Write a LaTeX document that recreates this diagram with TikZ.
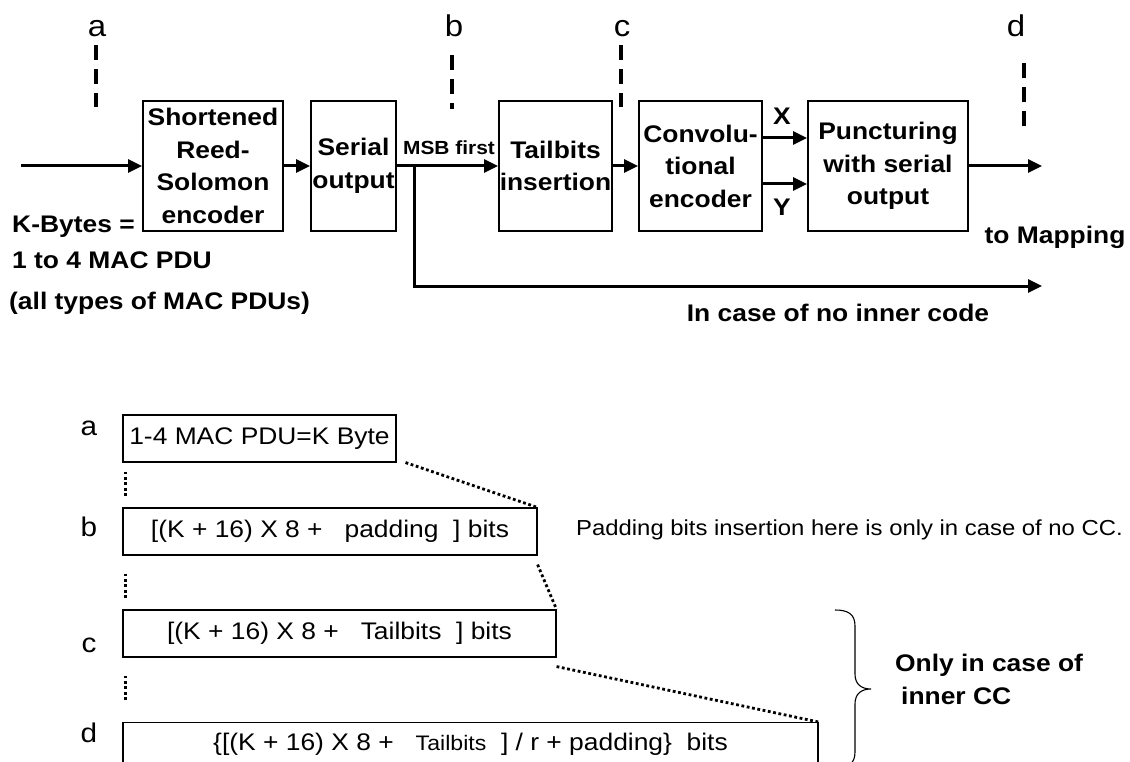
\documentclass[tikz,border=0pt]{standalone}
\usepackage{fontspec}
\setmainfont{Liberation Sans}[FakeStretch=1.1]
\usetikzlibrary{arrows.meta}
\newcommand\fsz[2]{\fontsize{#1}{#2}\selectfont}
\begin{document}
\begin{tikzpicture}[x=1pt,y=-1pt,
  blk/.style={draw,line width=2pt,font=\bfseries\fsz{24}{32.5},align=center,inner sep=0pt,minimum height=130pt},
  flow/.style={line width=3pt,-{Triangle[length=14pt,width=13pt]}},
  cut/.style={line width=4pt,dash pattern=on 15pt off 9pt},
  tag/.style={font=\fsz{30}{32},anchor=base,inner sep=0pt},
  lbl/.style={font=\bfseries\fsz{24}{28},inner sep=0pt},
  seg/.style={draw,line width=1.1pt,font=\fsz{24}{28},minimum height=47pt,inner sep=0pt},
  dots/.style={line width=2.8pt,dash pattern=on 2.8pt off 2.6pt},
]
\useasboundingbox[fill=white] (0,0) rectangle (1130,762);
\clip (0,0) rectangle (1130,762);

% ---------- encoder chain ----------
\node[blk,minimum width=140pt] (rs)   at (213,166)   {Shortened\\Reed-\\Solomon\\encoder};
\node[blk,minimum width=85pt]  (ser)  at (353.5,166) {Serial\\output};
\node[blk,minimum width=113pt] (tail) at (555.5,166) {Tailbits\\insertion};
\node[blk,minimum width=123pt] (conv) at (700.5,166) {Convolu-\\tional\\encoder};
\node[blk,minimum width=160pt] (punc) at (888,166)   {Puncturing\\with serial\\output};

\coordinate (in)  at (21,166);
\coordinate (br)  at (414,166);
\coordinate (out) at (1042,166);
\coordinate (nc)  at (1042,286);

\draw[flow] (in) -- (rs.west);
\draw[flow] (rs.east) -- (ser.west);
\draw[flow] (ser.east) -- (tail.west);
\draw[flow] (tail.east) -- (conv.west);
\draw[flow] ([yshift=28pt]conv.east) -- ([yshift=28pt]punc.west);
\draw[flow] ([yshift=-18pt]conv.east) -- ([yshift=-18pt]punc.west);
\draw[flow] (punc.east) -- (out);
\draw[flow] (br) |- (nc);

\node[lbl,font=\bfseries\fsz{19}{20}] (msb) at (449,148) {MSB first};
\node[lbl] (xl)  at (782,116) {X};
\node[lbl] (yl)  at (782,207) {Y};
\node[lbl] (map) at (1055,237) {to Mapping};
\node[lbl] (nic) at (838,313) {In case of no inner code};
\node[lbl,anchor=west] (kb)    at (12,227) {K-Bytes =};
\node[lbl,anchor=west] (kmac)  at (12,260) {1 to 4 MAC PDU};
\node[lbl,anchor=west] (ktype) at (9,303)  {(all types of MAC PDUs)};

% ---------- observation points ----------
\node[tag] (ta) at (97,37)   {a};
\node[tag] (tb) at (454,37)  {b};
\node[tag] (tc) at (622,37)  {c};
\node[tag] (td) at (1016,37) {d};
\coordinate (a1) at (96,45);   \coordinate (a2) at (96,107);
\coordinate (b1) at (452,55);  \coordinate (b2) at (452,109);
\coordinate (c1) at (621,45);  \coordinate (c2) at (621,107);
\coordinate (d1) at (1024,63); \coordinate (d2) at (1024,127);
\draw[cut] (a1) -- (a2);
\draw[cut] (b1) -- (b2);
\draw[cut] (c1) -- (c2);
\draw[cut] (d1) -- (d2);

% ---------- block sizes ----------
\node[tag,font=\fsz{27}{28}] (la) at (89,435) {a};
\node[tag,font=\fsz{27}{28}] (lb) at (89,536) {b};
\node[tag,font=\fsz{27}{28}] (lc) at (89,652) {c};
\node[tag,font=\fsz{27}{28}] (ld) at (89,742) {d};

\node[seg,minimum width=273pt] (sa) at (259.5,438.5) {1-4 MAC PDU=K Byte};
\node[seg,minimum width=414pt] (sb) at (330,531.5) {[(K + 16) X 8 +\ \ \ padding\ \ ] bits};
\node[seg,minimum width=433pt] (sc) at (339.5,633.5) {[(K + 16) X 8 +\ \ \ Tailbits\ \ ] bits};
\node[seg,anchor=north,minimum width=695pt,minimum height=0pt,text height=28pt,text depth=60pt]
  (sd) at (470.5,722) {\{[(K + 16) X 8 +\ \ \ {\fsz{21}{22}Tailbits}\ \ ] / r + padding\}\ \ bits};

\node[anchor=west,font=\fsz{21.7}{24},inner sep=0pt] (note) at (576,530)
  {Padding bits insertion here is only in case of no CC.};

\draw[dots] ([xshift=9pt]sa.south east) -- (sb.north east);
\draw[dots] ([yshift=-9pt]sb.south east) -- (sc.north east);
\draw[dots] ([yshift=-9pt]sc.south east) -- (sd.north east);

\draw[dots] ([xshift=3pt,yshift=-9pt]sa.south west) -- ++(0,24);
\draw[dots] ([xshift=3pt,yshift=-18pt]sb.south west) -- ++(0,24);
\draw[dots] ([xshift=3pt,yshift=-18pt]sc.south west) -- ++(0,24);

% brace over the convolutional-code sizes
\draw[line width=1.1pt] (835,610) .. controls (848,610) and (855,614) .. (855,626)
  -- (855,674) .. controls (855,684) and (861,689) .. (871,689)
  .. controls (861,689) and (855,694) .. (855,704)
  -- (855,752) .. controls (855,764) and (848,768) .. (835,768);
\node[lbl,anchor=west,align=left,font=\bfseries\fsz{24}{33}] (cc) at (895,679)
  {Only in case of\\\hspace*{6pt}inner CC};
\end{tikzpicture}
\end{document}
